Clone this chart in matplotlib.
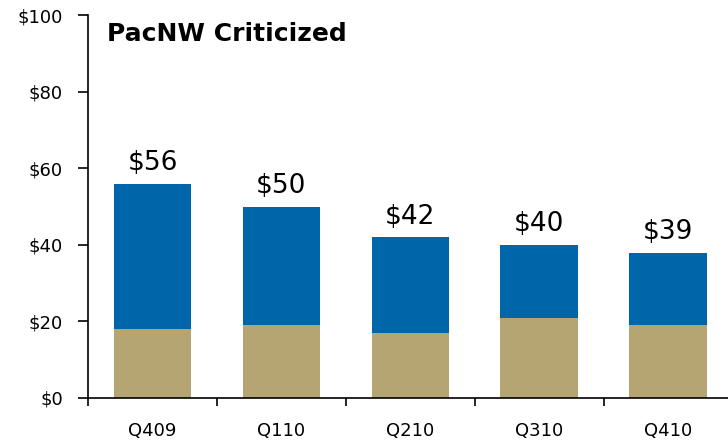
#!/usr/bin/env python3

import numpy as np
import matplotlib.pyplot as plt

quarters = ['Q409', 'Q110', 'Q210', 'Q310', 'Q410']
lower = [18, 19, 17, 21, 19]
upper = [38, 31, 25, 19, 19]
totals_label = ['$56', '$50', '$42', '$40', '$39']

TAN = '#B5A572'
BLUE = '#0066AA'


def main():
    fig = plt.figure(figsize=(7.28, 4.4), dpi=100)
    ax = fig.add_axes([0.121, 0.0955, 0.885, 0.87])

    x = np.arange(len(quarters))
    ax.bar(x, lower, width=0.6, color=TAN)
    ax.bar(x, upper, width=0.6, bottom=lower, color=BLUE)

    tops = np.array(lower) + np.array(upper)
    for xi, top, lab in zip(x, tops, totals_label):
        ax.text(xi, top + 2, lab, ha='center', va='bottom', fontsize=19)

    ax.set_xlim(-0.5, 4.5)
    ax.set_ylim(0, 100)
    ax.set_yticks(range(0, 101, 20))
    ax.set_yticklabels(['${}'.format(v) for v in range(0, 101, 20)])
    ax.set_xticks(x)
    ax.set_xticklabels(quarters)
    ax.set_xticks(np.arange(-0.5, 5, 1), minor=True)

    ax.tick_params(axis='y', length=7, width=1.2, pad=11, labelsize=13)
    ax.tick_params(axis='x', which='major', length=0, pad=17, labelsize=13)
    ax.tick_params(axis='x', which='minor', length=6, width=1.2)

    for side in ['top', 'right']:
        ax.spines[side].set_visible(False)
    for side in ['left', 'bottom']:
        ax.spines[side].set_linewidth(1.2)

    fig.text(107 / 728, 1 - 34 / 440, 'PacNW Criticized', fontsize=18,
             fontweight='bold', va='center', ha='left')

    plt.savefig('out.png', dpi=100)


if __name__ == "__main__":
    main()
